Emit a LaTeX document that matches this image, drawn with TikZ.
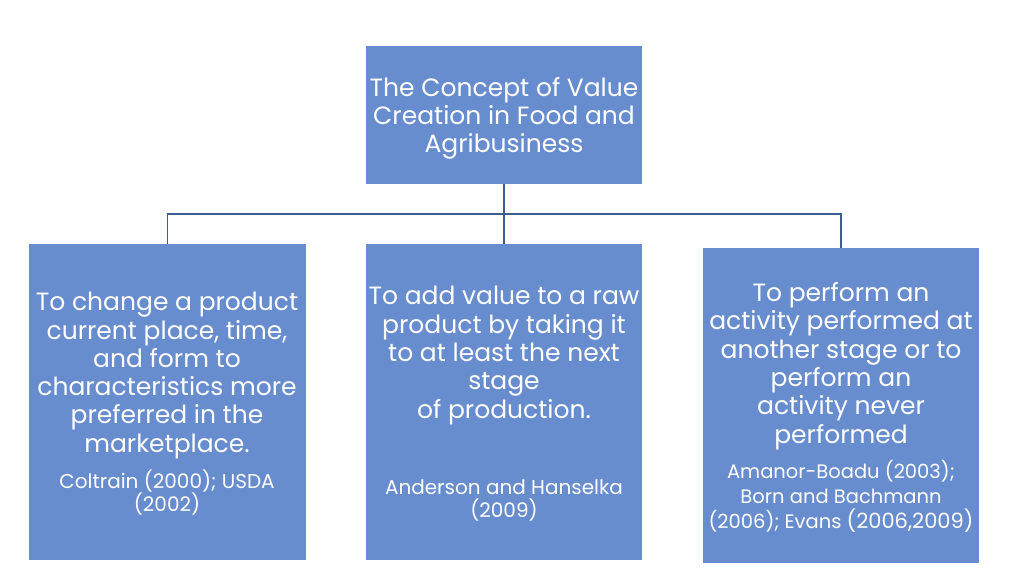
\documentclass[tikz,border=0pt]{standalone}
\usepackage{fontspec}
\setmainfont{Poppins}
\definecolor{boxfill}{RGB}{104,141,206}
\definecolor{linec}{RGB}{62,92,140}
\begin{document}
\begin{tikzpicture}[x=1pt,y=-1pt,
  box/.style={fill=boxfill, draw=none, inner sep=0pt},
  maintxt/.style={text=white, align=center, inner sep=0pt, font=\fontsize{25}{28.3}\selectfont},
  citetxt/.style={text=white, align=center, inner sep=0pt, font=\fontsize{20}{23.5}\selectfont},
  link/.style={draw=linec, line width=1.3pt}]
\useasboundingbox[fill=white] (0,0) rectangle (1024,576);
% boxes
\node[box, minimum width=276pt, minimum height=138pt] (top) at (504,115) {};
\node[box, minimum width=277pt, minimum height=316pt] (b1) at (167.5,402) {};
\node[box, minimum width=276pt, minimum height=316pt] (b2) at (504,402) {};
\node[box, minimum width=276pt, minimum height=315pt] (b3) at (841,405.5) {};
% connectors
\coordinate (j) at (504,214);
\draw[link] (top.south) -- (j);
\draw[link] (j) -| (b1.north);
\draw[link] (j) -- (b2.north);
\draw[link] (j) -| (b3.north);
% texts
\node[maintxt] (t0) at (504,118.5) {The Concept of Value\\Creation in Food and\\Agribusiness};
\node[maintxt] (t1) at (167,375.5) {To change a product\\current place, time,\\and form to\\characteristics more\\preferred in the\\marketplace.};
\node[citetxt] (c1) at (167,492.5) {Coltrain (2000); USDA\\(2002)};
\node[maintxt] (t2) at (504,355.5) {To add value to a raw\\product by taking it\\to at least the next\\stage\\of production.};
\node[citetxt] (c2) at (504,500.5) {Anderson and Hanselka\\(2009)};
\node[maintxt] (t3) at (841,366) {To perform an\\activity performed at\\another stage or to\\perform an\\activity never\\performed};
\node[citetxt, font=\fontsize{19.5}{25}\selectfont] (c3) at (841,496) {Amanor-Boadu (2003);\\Born and Bachmann\\(2006); Evans {\fontsize{21}{25}\selectfont(2006,2009)}};
\end{tikzpicture}
\end{document}
